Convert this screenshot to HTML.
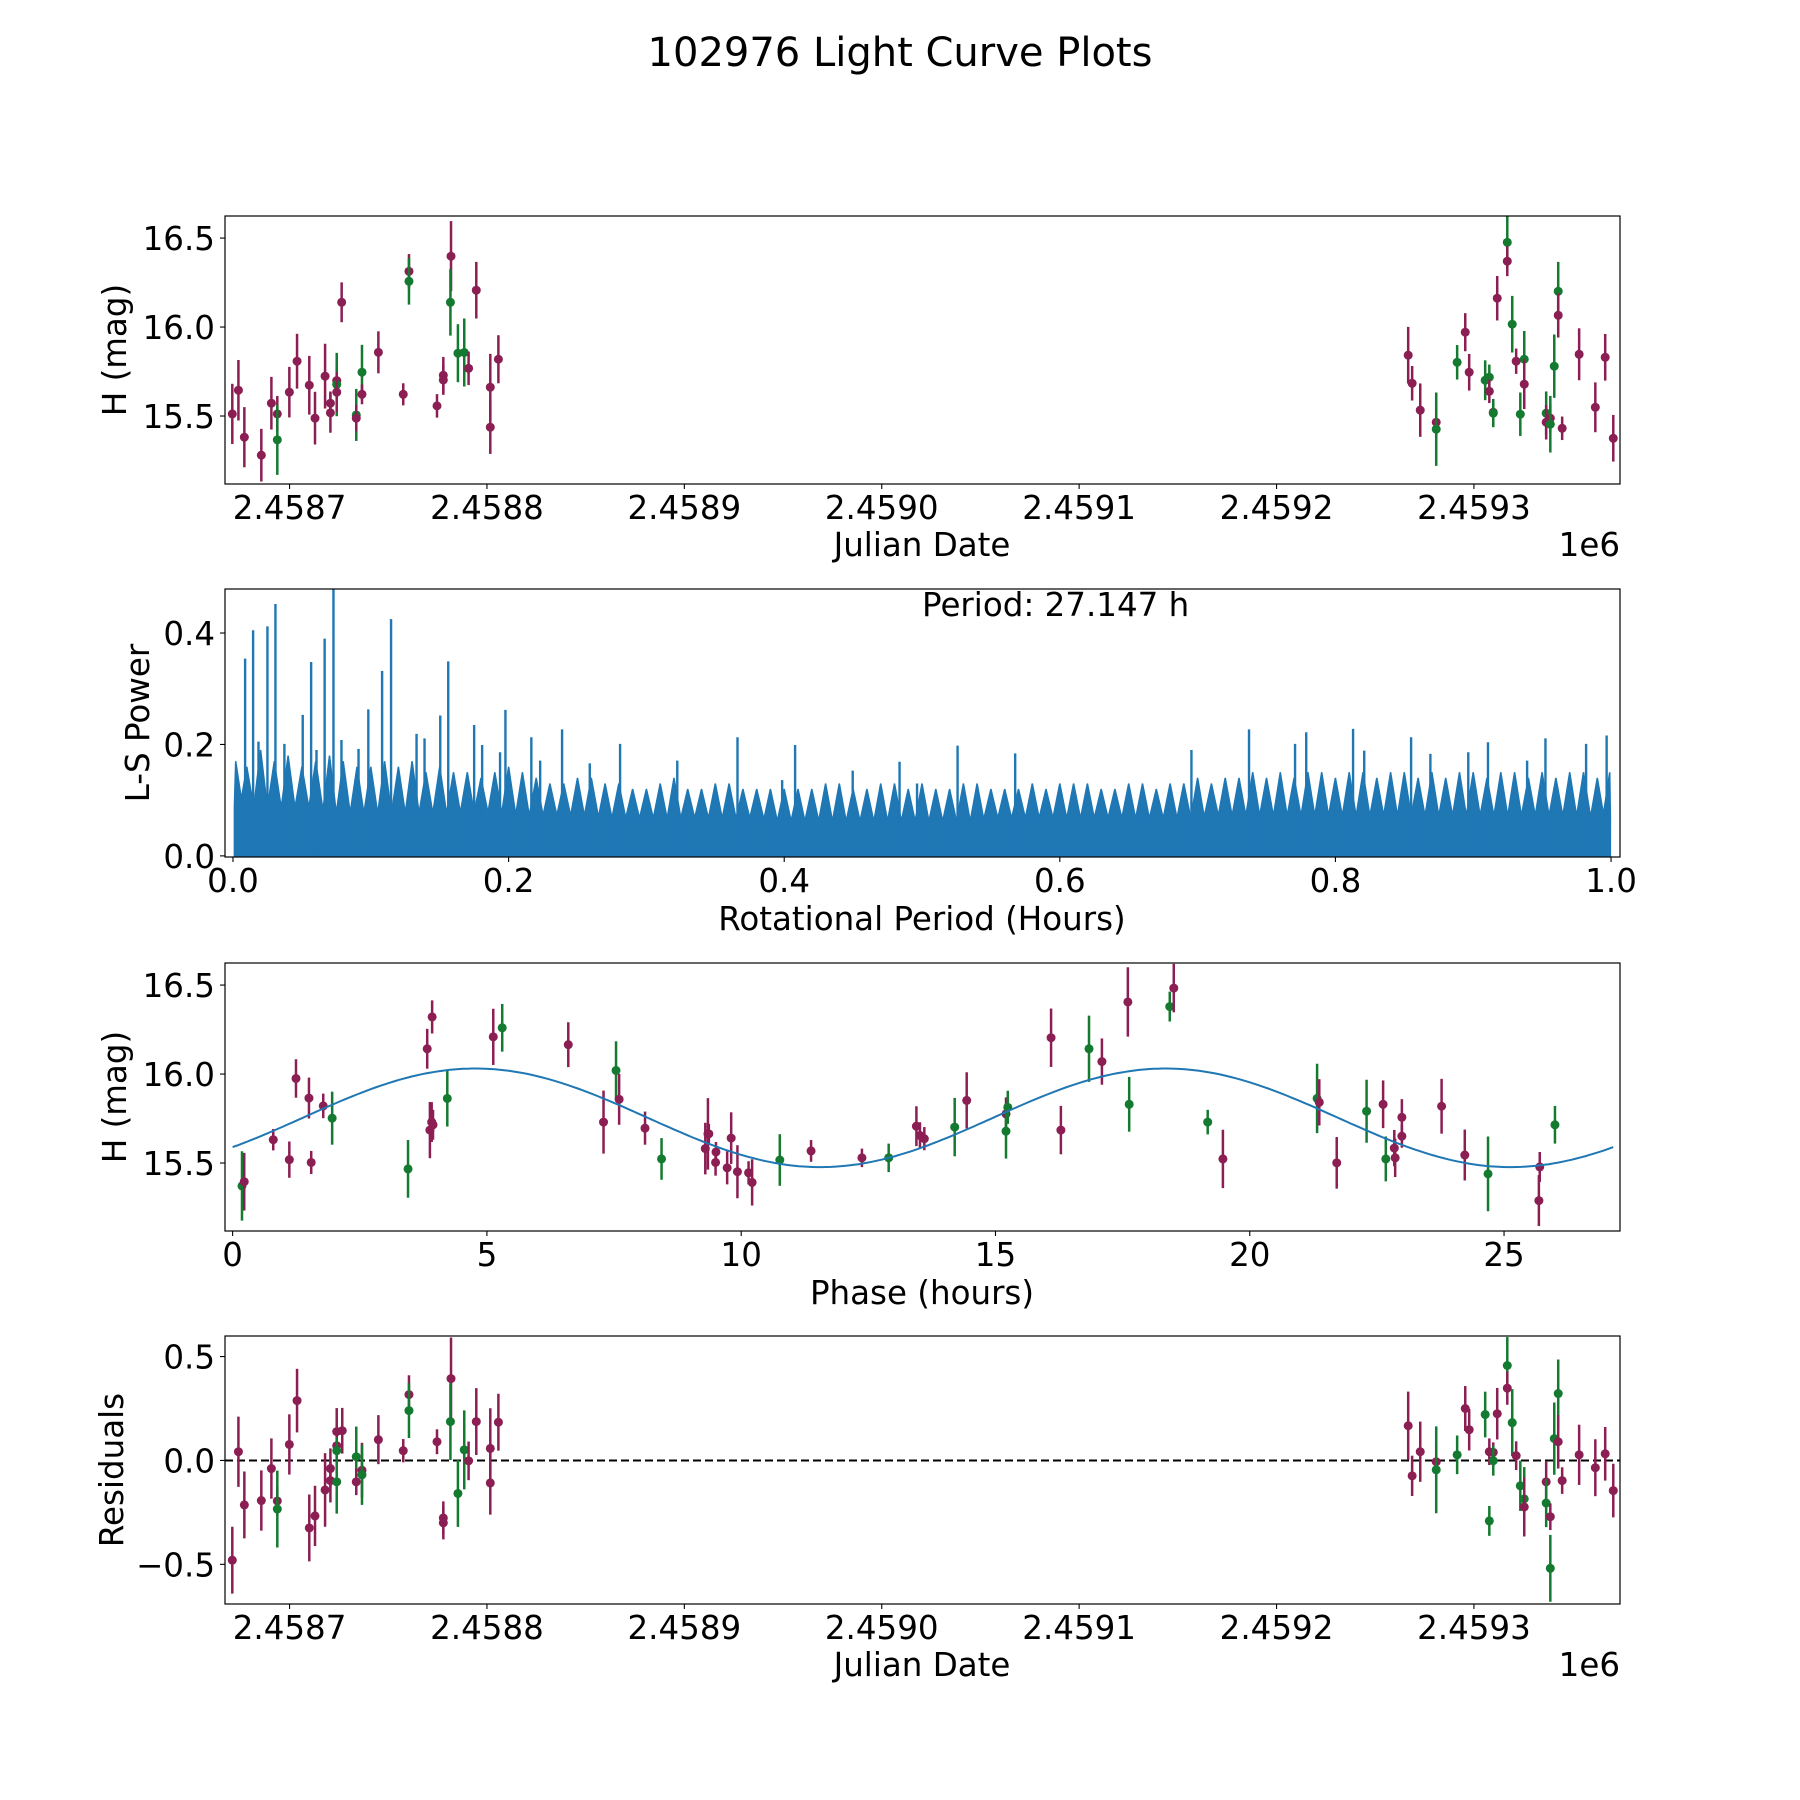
<!DOCTYPE html>
<html>
<head>
<meta charset="utf-8">
<style>
  html, body { margin: 0; padding: 0; background: #ffffff; }
  svg { display: block; }
  text { font-family: "DejaVu Sans", "Liberation Sans", sans-serif; fill: #000; }
</style>
</head>
<body>
<svg id="fig" xmlns="http://www.w3.org/2000/svg" width="1800" height="1800" viewBox="0 0 1800 1800">
  <rect x="0" y="0" width="1800" height="1800" fill="#ffffff"></rect>
  <text x="900" y="66" text-anchor="middle" font-size="40">102976 Light Curve Plots</text>
  <g id="p1"></g>
  <g id="p2"></g>
  <g id="p3"></g>
  <g id="p4"></g>
</svg>
<script>
// ---------- Panel 1: light curve ----------
const lcJD = [2458671.0,2458674.1,2458677.1,2458685.7,2458690.8,2458693.8,2458693.8,2458699.9,2458703.8,2458710.0,2458712.9,2458718.0,2458720.7,2458720.7,2458723.9,2458723.9,2458723.9,2458726.4,2458733.8,2458733.8,2458736.7,2458736.7,2458745.0,2458757.6,2458760.5,2458760.5,2458774.7,2458777.9,2458777.9,2458781.8,2458781.5,2458785.3,2458788.5,2458790.7,2458794.6,2458801.7,2458801.7,2458805.8,
2459266.7,2459268.7,2459272.8,2459280.9,2459280.9,2459291.5,2459295.6,2459297.6,2459305.7,2459307.8,2459307.8,2459309.8,2459309.8,2459311.8,2459316.9,2459316.9,2459319.4,2459321.4,2459323.5,2459325.5,2459325.5,2459336.6,2459336.6,2459338.7,2459338.7,2459340.7,2459342.7,2459342.7,2459344.7,2459353.3,2459361.5,2459366.5,2459370.6];
const lcMag = [15.512,15.645,15.381,15.280,15.572,15.512,15.366,15.634,15.808,15.673,15.488,15.724,15.572,15.518,15.699,15.677,15.634,16.139,15.506,15.488,15.746,15.622,15.858,15.622,16.313,16.257,15.557,15.729,15.703,16.398,16.139,15.853,15.857,15.768,16.207,15.662,15.437,15.819,
15.842,15.684,15.533,15.465,15.426,15.802,15.971,15.746,15.701,15.718,15.639,15.521,15.516,16.162,16.476,16.370,16.016,15.808,15.510,15.819,15.679,15.516,15.465,15.488,15.454,15.780,16.201,16.066,15.431,15.847,15.549,15.830,15.375];
const lcErr = [0.169,0.170,0.169,0.148,0.148,0.101,0.197,0.142,0.154,0.165,0.148,0.182,0.066,0.112,0.100,0.178,0.112,0.112,0.146,0.075,0.154,0.056,0.118,0.062,0.097,0.131,0.066,0.103,0.084,0.197,0.187,0.163,0.191,0.094,0.159,0.187,0.150,0.135,
0.159,0.097,0.150,0.084,0.206,0.097,0.107,0.103,0.112,0.071,0.066,0.075,0.079,0.125,0.150,0.084,0.159,0.071,0.122,0.159,0.140,0.122,0.097,0.079,0.159,0.178,0.165,0.125,0.066,0.146,0.140,0.131,0.131];
const lcBand = ["m","m","m","m","m","m","g","m","m","m","m","m","m","m","m","g","m","m","g","m","g","m","m","m","m","g","m","m","m","m","g","g","g","m","m","m","m","m",
"m","m","m","m","g","g","m","m","g","g","m","m","g","m","g","m","g","m","g","g","m","g","m","m","g","g","g","m","m","m","m","m","m"];
// ---------- Panel 2: periodogram ----------
const lsSpikeP = [0.0088,0.0146,0.0185,0.0250,0.0308,0.0373,0.0506,0.0567,0.0606,0.0665,0.0729,0.0787,0.0911,0.0982,0.1082,0.1147,0.1332,0.1390,0.1504,0.1562,0.1750,0.1808,0.1938,0.1977,0.2165,0.2229,0.2388,0.2589,0.2809,0.3224,0.3661,0.3985,0.4079,0.4497,0.4837,0.4964,0.5258,0.5676,0.6955,0.7373,0.7707,0.7788,0.8128,0.8209,0.8549,0.8689,0.8964,0.9107,0.9391,0.9524,0.9819,0.9968];
const lsSpikePow = [0.354,0.405,0.205,0.412,0.452,0.201,0.253,0.348,0.190,0.390,0.490,0.208,0.192,0.263,0.332,0.425,0.219,0.211,0.252,0.349,0.235,0.199,0.186,0.262,0.213,0.171,0.227,0.166,0.201,0.171,0.213,0.136,0.199,0.153,0.169,0.130,0.198,0.184,0.190,0.227,0.201,0.222,0.228,0.189,0.213,0.183,0.186,0.204,0.171,0.211,0.201,0.216];
const lsEnvPow = [0.17,0.16,0.19,0.17,0.18,0.16,0.17,0.18,0.17,0.16,0.16,
0.17,0.16,0.17,0.15,0.16,0.15,0.15,0.14,0.15,0.16,
0.15,0.14,0.13,0.13,0.14,0.14,0.13,0.13,0.12,0.12,
0.13,0.14,0.12,0.12,0.13,0.13,0.12,0.12,0.12,0.12,
0.12,0.12,0.13,0.13,0.12,0.12,0.13,0.13,0.12,0.13,
0.12,0.12,0.13,0.13,0.12,0.12,0.12,0.13,0.12,0.13,
0.13,0.13,0.12,0.12,0.13,0.13,0.12,0.13,0.13,0.14,
0.13,0.14,0.14,0.15,0.14,0.15,0.14,0.15,0.15,0.14,
0.15,0.15,0.14,0.15,0.15,0.14,0.15,0.14,0.15,0.15,
0.14,0.15,0.15,0.14,0.15,0.14,0.15,0.15,0.14,0.15];
const lsEnvStep = 0.01;
const lsFloorPow = [0.09,0.09,0.09,0.09,0.08,0.08,0.08,0.08,0.08,0.08,0.08,0.075,0.075,0.075,0.07,0.07,0.07,0.07,0.07,0.07,0.065,0.065,0.065,0.065,0.065,0.065,0.065,0.065,0.07,0.07,0.07,0.07,0.07,0.07,0.07,0.07,0.075,0.075,0.075,0.075,0.075,0.075,0.075,0.075,0.075,0.075,0.075,0.075,0.075,0.075,0.07];
const lsFloorStep = 0.02;
const bestPeriodLabel = "Period: 27.147 h";
// ---------- Panel 3: phase-folded ----------
const phT = [0.184,0.228,0.799,1.115,1.246,1.501,1.545,1.782,1.957,3.449,3.826,3.923,3.879,3.914,3.940,4.221,5.125,5.301,6.600,7.293,7.539,7.600,8.109,8.434,9.294,9.346,9.364,9.504,9.496,9.724,9.803,9.926,10.145,10.215,10.759,11.374,12.374,12.900,13.445,13.515,
13.601,14.198,14.434,15.207,15.242,15.207,16.093,16.286,16.839,17.093,17.603,17.629,18.427,18.506,19.173,19.472,21.324,21.367,21.710,22.297,22.622,22.675,22.842,22.859,22.991,22.991,23.772,24.228,24.685,25.702,25.685,26.001];
const phMag = [15.371,15.395,15.631,15.519,15.975,15.865,15.503,15.821,15.752,15.467,16.142,16.321,15.685,15.730,15.715,15.863,16.209,16.260,16.165,15.730,16.020,15.858,15.696,15.523,15.581,15.664,15.664,15.562,15.503,15.473,15.640,15.451,15.445,15.391,15.517,15.568,15.529,15.529,15.707,15.655,
15.637,15.702,15.852,15.776,15.813,15.679,16.204,15.685,16.142,16.070,16.405,15.830,16.379,16.483,15.730,15.523,15.863,15.841,15.501,15.791,15.830,15.523,15.584,15.529,15.757,15.651,15.819,15.545,15.439,15.478,15.289,15.715];
const phErr = [0.195,0.162,0.060,0.102,0.108,0.115,0.065,0.069,0.149,0.162,0.112,0.093,0.158,0.112,0.084,0.158,0.158,0.134,0.126,0.177,0.164,0.143,0.093,0.117,0.145,0.201,0.056,0.056,0.074,0.093,0.145,0.149,0.065,0.130,0.145,0.061,0.052,0.080,0.112,0.074,
0.065,0.164,0.158,0.093,0.093,0.154,0.164,0.136,0.186,0.130,0.195,0.154,0.084,0.136,0.069,0.164,0.195,0.130,0.145,0.177,0.134,0.126,0.102,0.108,0.102,0.065,0.154,0.143,0.210,0.084,0.143,0.106];
const phBand = "gmmmmmmmggmmmmmgmgmmgmmgmmmmmmmmmmgmmgmm" + "mgmmggmmgmmggmgmgmmgmgmmmmmmgmmg";
const modelMean = 15.754, modelAmp = 0.277, modelPeak = 4.77, periodHours = 27.147;
// ---------- Panel 4: residuals ----------
const rsJD = [2458671.0,2458674.1,2458677.1,2458685.7,2458690.8,2458693.8,2458693.8,2458699.9,2458703.8,2458710.0,2458712.9,2458718.0,2458720.7,2458720.7,2458723.9,2458723.9,2458723.9,2458723.9,2458726.7,2458733.8,2458733.8,2458736.7,2458736.7,2458745.0,2458757.6,2458760.5,2458760.5,2458774.7,2458777.9,2458777.9,2458781.8,2458781.5,2458785.3,2458788.5,2458790.7,2458794.6,2458801.7,2458801.7,2458805.8,
2459266.7,2459268.7,2459272.8,2459280.9,2459280.9,2459291.5,2459295.6,2459297.6,2459305.7,2459307.8,2459307.8,2459309.8,2459309.8,2459311.8,2459316.9,2459316.9,2459319.4,2459321.4,2459323.5,2459325.5,2459325.5,2459336.6,2459336.6,2459338.7,2459338.7,2459340.7,2459342.7,2459342.7,2459344.7,2459353.3,2459361.5,2459366.5,2459370.6];
const rsVal = [-0.480,0.042,-0.214,-0.193,-0.039,-0.195,-0.234,0.077,0.288,-0.325,-0.267,-0.142,-0.039,-0.097,0.139,0.071,0.047,-0.103,0.143,0.018,-0.103,-0.047,-0.069,0.100,0.047,0.317,0.240,0.090,-0.277,-0.300,0.394,0.187,-0.159,0.051,-0.002,0.187,0.058,-0.108,0.184,
0.167,-0.074,0.042,-0.006,-0.045,0.027,0.250,0.148,0.221,0.042,-0.291,0.039,-0.001,0.225,0.457,0.348,0.182,0.023,-0.122,-0.185,-0.224,-0.103,-0.205,-0.271,-0.519,0.105,0.322,0.090,-0.097,0.027,-0.035,0.032,-0.145];
const rsErr = [0.161,0.169,0.161,0.145,0.145,0.072,0.185,0.145,0.153,0.161,0.145,0.177,0.097,0.105,0.113,0.064,0.064,0.153,0.110,0.145,0.064,0.132,0.145,0.118,0.056,0.093,0.132,0.060,0.080,0.080,0.198,0.185,0.161,0.190,0.093,0.161,0.193,0.153,0.137,
0.164,0.097,0.145,0.080,0.209,0.093,0.108,0.100,0.110,0.064,0.072,0.048,0.072,0.124,0.137,0.080,0.161,0.069,0.121,0.153,0.142,0.097,0.116,0.064,0.161,0.174,0.164,0.129,0.064,0.145,0.137,0.129,0.129];
const rsBand = ["m","m","m","m","m","m","g","m","m","m","m","m","m","m","m","m","g","g","m","g","m","m","g","m","m","m","g","m","m","m","m","g","g","g","m","m","m","m","m",
"m","m","m","m","g","g","m","m","g","m","g","m","g","m","g","m","g","m","g","g","m","m","g","m","g","g","g","m","m","m","m","m","m"];
</script>
<script>
const NS = "http://www.w3.org/2000/svg";
const MAG = "#8b1e52", GRN = "#137a30", BLUE = "#1f77b4";
const FS = 32.5;
function mk(parent, tag, attrs) {
  const e = document.createElementNS(NS, tag);
  for (const k in attrs) e.setAttribute(k, attrs[k]);
  parent.appendChild(e);
  return e;
}
function txt(parent, x, y, s, size, anchor, extra) {
  const t = mk(parent, "text", Object.assign({x: x, y: y, "font-size": size, "text-anchor": anchor || "middle"}, extra || {}));
  t.textContent = s;
  return t;
}
function axesFrame(g, x0, y0, w, h, name) {
  const r = mk(g, "rect", {x: x0, y: y0, width: w, height: h, fill: "none", stroke: "#000", "stroke-width": 1.2});
  
  
}
function xTicks(g, vals, labels, sx, yBottom) {
  vals.forEach((v, i) => {
    const x = sx(v);
    const l = mk(g, "line", {x1: x, x2: x, y1: yBottom, y2: yBottom + 5, stroke: "#000", "stroke-width": 1.1});
    
    
    const t = txt(g, x, yBottom + 35, labels[i], FS, "middle");
    
    
  });
}
function yTicks(g, vals, labels, sy, xLeft) {
  vals.forEach((v, i) => {
    const y = sy(v);
    const l = mk(g, "line", {x1: xLeft - 5, x2: xLeft, y1: y, y2: y, stroke: "#000", "stroke-width": 1.1});
    
    
    const t = txt(g, xLeft - 10, y + 12, labels[i], FS, "end");
    
    
  });
}
function yLabel(g, x, yc, s) {
  const t = txt(g, x, yc, s, FS, "middle", {transform: "rotate(-90 " + x + " " + yc + ")"});
  
  
}
function xLabel(g, xc, y, s) {
  const t = txt(g, xc, y, s, FS, "middle");
  
  
}
function errPoint(g, x, y, yLo, yHi, color, clipId) {
  const grp = mk(g, "g", {"clip-path": "url(#" + clipId + ")"});
  
  
  const l = mk(grp, "line", {x1: x, x2: x, y1: yLo, y2: yHi, stroke: color, "stroke-width": 2.5});
  
  
  const c = mk(grp, "circle", {cx: x, cy: y, r: 4.5, fill: color});
  
  
}
function clip(id, x, y, w, h) {
  const svg = document.getElementById("fig");
  let defs = svg.querySelector("defs");
  if (!defs) { defs = document.createElementNS(NS, "defs"); svg.insertBefore(defs, svg.firstChild); }
  const cp = mk(defs, "clipPath", {id: id});
  mk(cp, "rect", {x: x, y: y, width: w, height: h});
}

const AX = 225, AW = 1395, AH = 268;
const PY = [216, 589, 963, 1336];
const jdMin = 2458667.3, jdMax = 2459374.0;
const sxJD = v => AX + (v - jdMin) / (jdMax - jdMin) * AW;
const jdTicks = [2458700, 2458800, 2458900, 2459000, 2459100, 2459200, 2459300];
const jdTickLabels = ["2.4587", "2.4588", "2.4589", "2.4590", "2.4591", "2.4592", "2.4593"];

(function () {
  const g = document.getElementById("p1");
  const y0 = PY[0];
  const mMin = 15.118, mMax = 16.624;
  const sy = v => y0 + AH - (v - mMin) / (mMax - mMin) * AH;
  clip("c1", AX, y0, AW, AH);
  lcJD.forEach((jd, i) => {
    const col = lcBand[i] === "g" ? GRN : MAG;
    errPoint(g, sxJD(jd), sy(lcMag[i]), sy(lcMag[i] - lcErr[i]), sy(lcMag[i] + lcErr[i]), col, "c1");
  });
  axesFrame(g, AX, y0, AW, AH, "light-curve-axes");
  xTicks(g, jdTicks, jdTickLabels, sxJD, y0 + AH);
  yTicks(g, [15.5, 16.0, 16.5], ["15.5", "16.0", "16.5"], sy, AX);
  xLabel(g, 922, 556, "Julian Date");
  const off = txt(g, 1620, 556, "1e6", FS, "end");
  
  
  yLabel(g, 126, y0 + AH / 2, "H (mag)");
})();

(function () {
  const g = document.getElementById("p2");
  const y0 = PY[1];
  const pMin = -0.0058, pMax = 1.0065, wMin = -0.002, wMax = 0.479;
  const sx = v => AX + (v - pMin) / (pMax - pMin) * AW;
  const sy = v => y0 + AH - (v - wMin) / (wMax - wMin) * AH;
  clip("c2", AX, y0, AW, AH);
  let d = "M" + sx(0.001) + "," + sy(0);
  lsEnvPow.forEach((pw, i) => {
    const p = Math.min(Math.max(i * lsEnvStep, 0.002), 0.999);
    const fl = lsFloorPow[Math.min(lsFloorPow.length - 1, Math.round(i * lsEnvStep / lsFloorStep))];
    const lo = Math.max(0.001, p - 0.0048), hi = Math.min(0.9995, p + 0.0048);
    d += " L" + sx(lo).toFixed(1) + "," + sy(fl).toFixed(1) + " L" + sx(p).toFixed(1) + "," + sy(pw).toFixed(1) + " L" + sx(hi).toFixed(1) + "," + sy(fl).toFixed(1);
  });
  d += " L" + sx(0.9995) + "," + sy(0) + " Z";
  const area = mk(g, "path", {d: d, fill: BLUE, stroke: BLUE, "stroke-width": 1.5, "stroke-linejoin": "miter", "clip-path": "url(#c2)"});
  
  
  lsSpikeP.forEach((p, i) => {
    const l = mk(g, "line", {x1: sx(p), x2: sx(p), y1: sy(0), y2: sy(lsSpikePow[i]), stroke: BLUE, "stroke-width": 2.4, "clip-path": "url(#c2)"});
    
    
  });
  axesFrame(g, AX, y0, AW, AH, "periodogram-axes");
  xTicks(g, [0, 0.2, 0.4, 0.6, 0.8, 1.0], ["0.0", "0.2", "0.4", "0.6", "0.8", "1.0"], sx, y0 + AH);
  yTicks(g, [0, 0.2, 0.4], ["0.0", "0.2", "0.4"], sy, AX);
  xLabel(g, 922, 930, "Rotational Period (Hours)");
  yLabel(g, 149, y0 + AH / 2, "L-S Power");
  const pl = txt(g, 922, 616, bestPeriodLabel, FS, "start");
  
  
})();

(function () {
  const g = document.getElementById("p3");
  const y0 = PY[2];
  const tMin = -0.15, tMax = 27.28, mMin = 15.118, mMax = 16.624;
  const sx = v => AX + (v - tMin) / (tMax - tMin) * AW;
  const sy = v => y0 + AH - (v - mMin) / (mMax - mMin) * AH;
  clip("c3", AX, y0, AW, AH);
  phT.forEach((t, i) => {
    const col = phBand[i] === "g" ? GRN : MAG;
    errPoint(g, sx(t), sy(phMag[i]), sy(phMag[i] - phErr[i]), sy(phMag[i] + phErr[i]), col, "c3");
  });
  let pts = [];
  for (let k = 0; k <= 300; k++) {
    const t = periodHours * k / 300;
    const m = modelMean + modelAmp * Math.cos(2 * Math.PI * (t - modelPeak) / (periodHours / 2));
    pts.push(sx(t).toFixed(1) + "," + sy(m).toFixed(1));
  }
  const pl = mk(g, "polyline", {points: pts.join(" "), fill: "none", stroke: BLUE, "stroke-width": 2});
  
  
  axesFrame(g, AX, y0, AW, AH, "phase-axes");
  xTicks(g, [0, 5, 10, 15, 20, 25], ["0", "5", "10", "15", "20", "25"], sx, y0 + AH);
  yTicks(g, [15.5, 16.0, 16.5], ["15.5", "16.0", "16.5"], sy, AX);
  xLabel(g, 922, 1304, "Phase (hours)");
  yLabel(g, 126, y0 + AH / 2, "H (mag)");
})();

(function () {
  const g = document.getElementById("p4");
  const y0 = PY[3];
  const rMin = -0.691, rMax = 0.599;
  const sy = v => y0 + AH - (v - rMin) / (rMax - rMin) * AH;
  clip("c4", AX, y0, AW, AH);
  const zl = mk(g, "line", {x1: AX, x2: AX + AW, y1: sy(0), y2: sy(0), stroke: "#000", "stroke-width": 2, "stroke-dasharray": "8,4"});
  
  
  rsJD.forEach((jd, i) => {
    const col = rsBand[i] === "g" ? GRN : MAG;
    errPoint(g, sxJD(jd), sy(rsVal[i]), sy(rsVal[i] - rsErr[i]), sy(rsVal[i] + rsErr[i]), col, "c4");
  });
  axesFrame(g, AX, y0, AW, AH, "residuals-axes");
  xTicks(g, jdTicks, jdTickLabels, sxJD, y0 + AH);
  yTicks(g, [-0.5, 0, 0.5], ["\u22120.5", "0.0", "0.5"], sy, AX);
  xLabel(g, 922, 1676, "Julian Date");
  const off = txt(g, 1620, 1676, "1e6", FS, "end");
  
  
  yLabel(g, 123, y0 + AH / 2, "Residuals");
})();
</script>
</body>
</html>
